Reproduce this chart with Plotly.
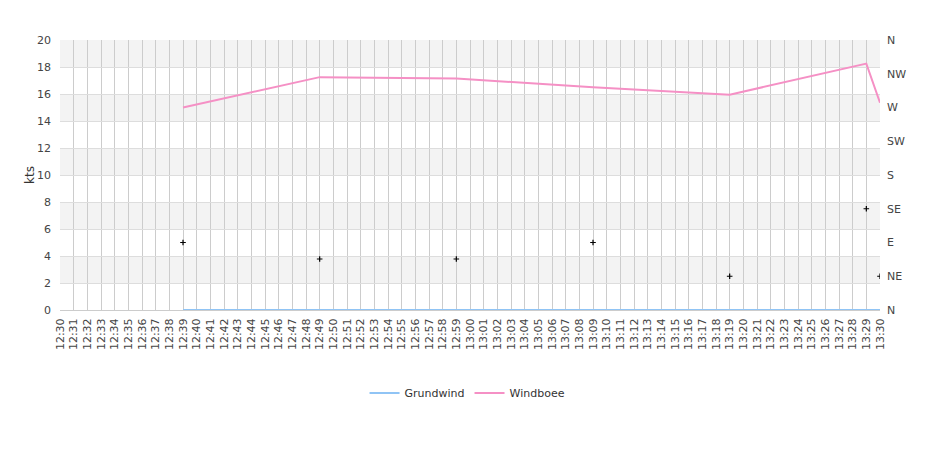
import plotly.graph_objects as go

# ---- data ----
times = [f"{h}:{m:02d}" for h, m in [(12, mm) for mm in range(30, 60)] + [(13, mm) for mm in range(0, 31)]]
sample_times = ["12:39", "12:49", "12:59", "13:09", "13:19", "13:29", "13:30"]
grundwind = [0, 0, 0, 0, 0, 0, 0]
windboee = [15.0, 17.25, 17.15, 16.5, 15.95, 18.25, 15.35]
direction_deg = [90, 68, 68, 90, 45, 135, 45]
dir_ticks = [0, 45, 90, 135, 180, 225, 270, 315, 360]
dir_labels = ["N", "NE", "E", "SE", "S", "SW", "W", "NW", "N"]
y_ticks = list(range(0, 21, 2))

FONT = "DejaVu Sans"
fig = go.Figure()

fig.add_trace(go.Scatter(x=sample_times, y=grundwind, name="Grundwind", mode="lines",
                         line=dict(color="#90c4f5", width=2)))
fig.add_trace(go.Scatter(x=sample_times, y=windboee, name="Windboee", mode="lines",
                         line=dict(color="#f590c5", width=2)))
fig.add_trace(go.Scatter(x=sample_times, y=direction_deg, yaxis="y2", mode="markers",
                         showlegend=False,
                         marker=dict(symbol="cross-thin", size=4, color="black",
                                     line=dict(color="black", width=1.2))))

# alternating bands
shapes = []
for lo in range(2, 20, 4):
    shapes.append(dict(type="rect", xref="paper", yref="y", x0=0, x1=1, y0=lo, y1=lo + 2,
                       fillcolor="#f3f3f3", line=dict(width=0), layer="below"))

fig.update_layout(
    width=940, height=450,
    margin=dict(l=52, r=68, t=32, b=148),
    paper_bgcolor="white", plot_bgcolor="white",
    font=dict(family=FONT, size=11, color="#333"),
    shapes=shapes,
    annotations=[dict(text="kts", xref="paper", yref="paper", x=0, y=0.5,
                      xanchor="center", yanchor="middle", xshift=-30, textangle=-90,
                      showarrow=False, font=dict(size=12, color="#333"))],
    showlegend=True,
    legend=dict(orientation="h", x=0.497, xanchor="center", y=-0.307, yanchor="middle",
                font=dict(size=11, color="#333"), itemwidth=30),
    xaxis=dict(type="category", categoryorder="array", categoryarray=times,
               range=[0, len(times) - 1], tickmode="array", tickvals=times, ticktext=times,
               tickangle=-90, showgrid=True, gridcolor="#cccccc", gridwidth=1,
               showline=True, linecolor="#cccccc", ticks="", zeroline=False,
               ticklabelstandoff=3,
               automargin=False, tickfont=dict(size=11, color="#444")),
    yaxis=dict(range=[0, 20], tickvals=y_ticks, showgrid=True, gridcolor="#dddddd",
               zeroline=False, ticks="", ticklabelstandoff=8, automargin=False,
               tickfont=dict(size=11, color="#444")),
    yaxis2=dict(overlaying="y", side="right", range=[0, 360], tickmode="array",
                tickvals=dir_ticks, ticktext=dir_labels, showgrid=False, zeroline=False,
                automargin=False,
                ticks="", ticklabelstandoff=6, tickfont=dict(size=11, color="#444")),
)

fig.write_html("out.html")
